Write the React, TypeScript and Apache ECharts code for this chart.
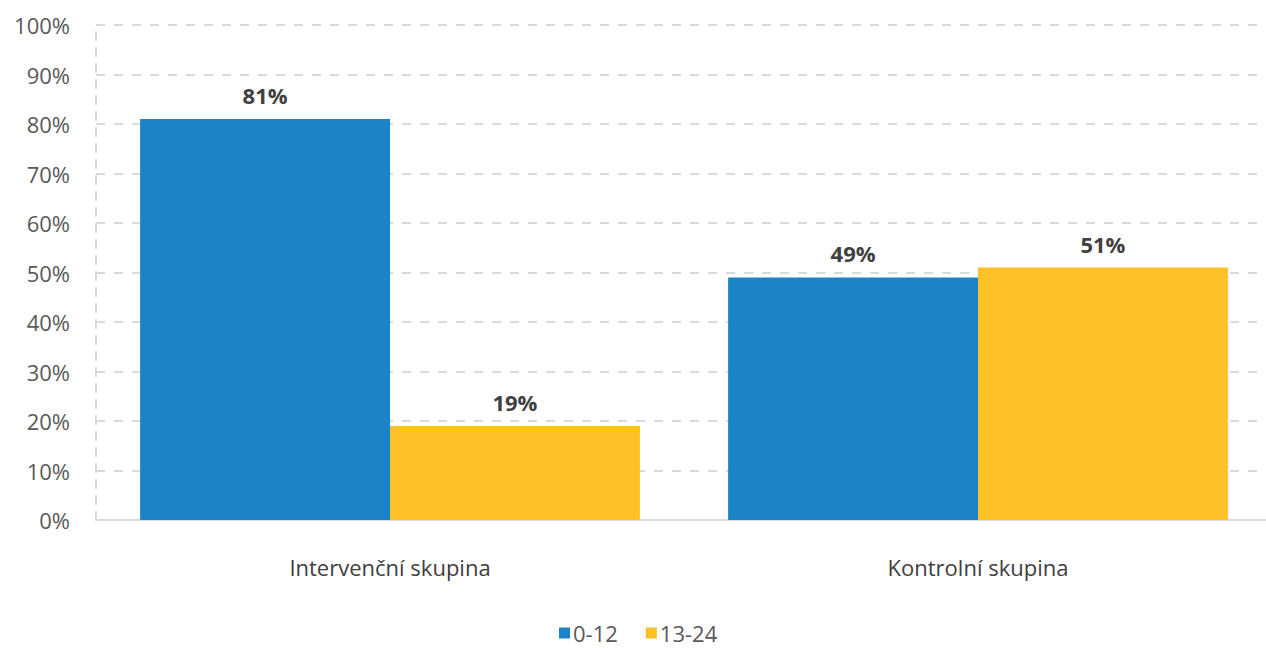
import React, { useEffect, useRef } from "react";
import * as echarts from "echarts";

const categories = ["Intervenční skupina", "Kontrolní skupina"];
const seriesNames = ["0-12", "13-24"];
const values012 = [81, 49];
const values1324 = [19, 51];
const colors = ["#1b84c8", "#fbc126"];

export default function App() {
  const ref = useRef<HTMLDivElement>(null);
  useEffect(() => {
    document.body.style.margin = "0";
    document.body.style.overflow = "hidden";
    const chart = echarts.init(ref.current!, null, { renderer: "svg" });
    const font = "'Open Sans', 'Liberation Sans', sans-serif";
    const label = {
      show: true,
      position: "top",
      distance: 13,
      formatter: "{c}%",
      fontFamily: font,
      fontSize: 22,
      fontWeight: "bold",
      color: "#404040",
    };
    chart.setOption({
      animation: false,
      color: colors,
      textStyle: { fontFamily: font },
      grid: { left: 96, right: 0, top: 25, bottom: 128, containLabel: false },
      legend: {
        top: 622,
        left: 559,
        padding: 0,
        icon: "rect",
        itemWidth: 11,
        itemHeight: 11,
        itemGap: 28,
        textStyle: { fontSize: 22, lineHeight: 22, color: "#595959", fontFamily: font, padding: [0, 0, 0, -2] },
        data: seriesNames,
      },
      xAxis: {
        type: "category",
        data: categories,
        axisLine: { show: true, lineStyle: { color: "#d9d9d9", width: 2 } },
        axisTick: { show: false },
        axisLabel: { fontSize: 22, color: "#404040", margin: 36, fontFamily: font },
      },
      yAxis: {
        type: "value",
        min: 0,
        max: 100,
        interval: 10,
        axisLine: { show: true, lineStyle: { color: "#d9d9d9", width: 2, type: [8, 8] } },
        axisTick: { show: false },
        axisLabel: { formatter: "{value}%", fontSize: 22, color: "#595959", margin: 26, fontFamily: font },
        splitLine: { show: true, lineStyle: { color: "#d9d9d9", width: 2, type: [9, 9] } },
      },
      series: [
        { name: seriesNames[0], type: "bar", data: values012, barGap: "0%", barCategoryGap: "15%", label },
        { name: seriesNames[1], type: "bar", data: values1324, barGap: "0%", barCategoryGap: "15%", label },
      ],
    });
    return () => chart.dispose();
  }, []);
  return <div ref={ref} style={{ width: 1272, height: 648 }} />;
}
